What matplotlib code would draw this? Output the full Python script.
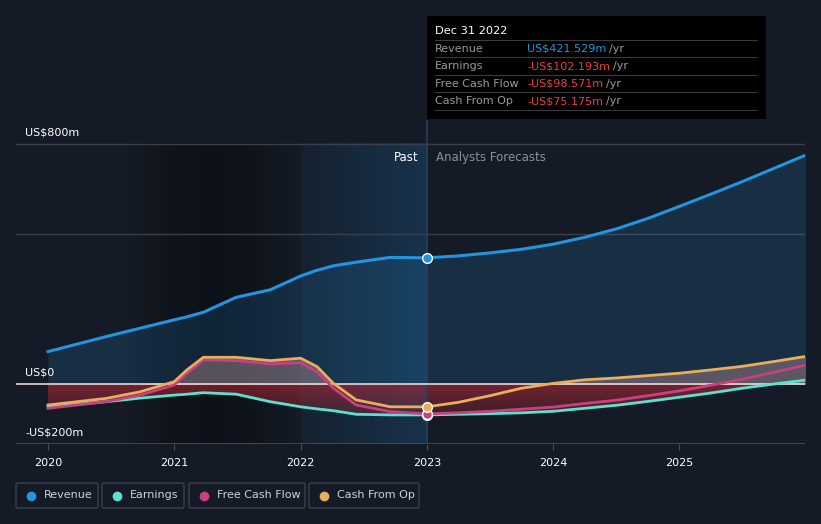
import numpy as np
import matplotlib
matplotlib.use("Agg")
import matplotlib.pyplot as plt
from matplotlib.patches import FancyBboxPatch

# ---- data (US$m) ----
past_x = [2020.0, 2020.46, 2020.73, 2021.0, 2021.1, 2021.23, 2021.49, 2021.76,
          2022.0, 2022.13, 2022.26, 2022.44, 2022.71, 2023.0]
fc_x = [2023.0, 2023.25, 2023.5, 2023.75, 2024.0, 2024.25, 2024.5, 2024.75,
        2025.0, 2025.25, 2025.5, 2025.75, 2026.0]

revenue_past = [109, 159, 187, 215, 225, 240, 290, 315, 361, 380, 395, 407, 423, 421.529]
revenue_fc = [421.529, 428, 438, 450, 467, 490, 518, 553, 593, 634, 676, 720, 764]

earnings_past = [-75, -58, -46, -36, -33, -28, -33, -58, -75, -82, -88, -100, -102, -102.193]
earnings_fc = [-102.193, -100, -98, -95, -90, -80, -70, -57, -43, -29, -13, 1, 14]

fcf_past = [-80, -58, -36, -2, 37, 81, 79, 68, 72, 42, -13, -69, -91, -98.571]
fcf_fc = [-98.571, -95, -90, -83, -76, -64, -53, -38, -22, -3, 17, 40, 64]

cfo_past = [-69, -47, -25, 9, 48, 90, 90, 79, 87, 59, 3, -52, -75, -75.175]
cfo_fc = [-75.175, -60, -38, -13, 3, 15, 21, 29, 37, 48, 60, 76, 93]

years = [2020, 2021, 2022, 2023, 2024, 2025]
tooltip_rows = [("Revenue", "US$421.529m", "#2394df"),
                ("Earnings", "-US$102.193m", "#e8413c"),
                ("Free Cash Flow", "-US$98.571m", "#e8413c"),
                ("Cash From Op", "-US$75.175m", "#e8413c")]

c_rev = "#2394df"
c_earn = "#5ce0cf"
c_fcf = "#c9407f"
c_cfo = "#e9ad5c"
bg = "#151b26"

x = np.array(past_x + fc_x[1:])
rev = np.array(revenue_past + revenue_fc[1:])
earn = np.array(earnings_past + earnings_fc[1:])
fcf = np.array(fcf_past + fcf_fc[1:])
cfo = np.array(cfo_past + cfo_fc[1:])

W, H = 821, 524
fig = plt.figure(figsize=(W / 100, H / 100), dpi=100, facecolor=bg)
ax = fig.add_axes([16 / W, (H - 444.3) / H, (805 - 16) / W, (444.3 - 120) / H])
ax.set_facecolor(bg)
x0 = 2020 - 32 / 126.2
x1 = 2020 + (805 - 48.5) / 126.2
ytop = (384.3 - 120) / 0.3

# darker gradient band and past highlight
grad = np.linspace(0, 1, 256).reshape(1, -1)
ax.imshow(np.dstack([np.zeros((1, 256, 3)), 0.35 * np.sin(grad * np.pi)]),
          extent=[2020.6, 2022.0, -200, 800], aspect="auto", zorder=0.5)
blue = np.ones((1, 256, 3)) * np.array([0.12, 0.40, 0.62])
ax.imshow(np.dstack([blue, 0.08 + 0.24 * grad]),
          extent=[2022.0, 2023.0, -200, 800], aspect="auto", zorder=0.5)

# grid
for gy in [800, 500]:
    ax.axhline(gy, color="#3a404b", lw=1, zorder=1)
ax.axhline(-200, color="#4a505b", lw=1.2, zorder=1)
ax.axhline(0, color="#f4e6e6", lw=1.1, zorder=4)

# fills
ax.fill_between(x, rev, 0, color=c_rev, alpha=0.16, lw=0, zorder=2)
low = np.minimum(np.minimum(earn, fcf), cfo)
neg = ax.fill_between(x, np.minimum(low, 0), 0, color="none", lw=0, zorder=2)
vgrad = np.linspace(1, 0, 256).reshape(-1, 1)
red = np.ones((256, 1, 3)) * np.array([0.80, 0.17, 0.22])
img = ax.imshow(np.dstack([red, 0.2 + 0.32 * vgrad]),
                extent=[x0, x1, -110, 0], aspect="auto", zorder=2)
img.set_clip_path(neg.get_paths()[0], transform=ax.transData)
ax.fill_between(x, np.maximum(cfo, 0), 0, color="#d9a3a3", alpha=0.35, lw=0, zorder=2)
ax.set_xlim(x0, x1)
ax.set_ylim(-200, ytop)

# lines
ax.plot(x, rev, color=c_rev, lw=2.2, zorder=5, solid_joinstyle="round")
ax.plot(x, earn, color=c_earn, lw=2.0, zorder=5, solid_joinstyle="round")
ax.plot(x, fcf, color=c_fcf, lw=2.0, zorder=5, solid_joinstyle="round")
ax.plot(x, cfo, color=c_cfo, lw=2.0, zorder=5, solid_joinstyle="round")

# marker at Dec 31 2022
ax.axvline(2023.0, color="#26405a", lw=1.2, zorder=3)
for val, col in [(revenue_past[-1], c_rev), (earnings_past[-1], c_earn),
                 (fcf_past[-1], c_fcf), (cfo_past[-1], c_cfo)]:
    ax.plot([2023.0], [val], "o", ms=7, color=col, mec="white", mew=1, zorder=6)

ax.text(2023.0 - 0.07, 755, "Past", color="white", fontsize=8.5, ha="right", va="center", zorder=7)
ax.text(2023.0 + 0.07, 755, "Analysts Forecasts", color="#8a8f98", fontsize=8.5,
        ha="left", va="center", zorder=7)

ax.text(2019.82, 840, "US$800m", color="white", fontsize=8, va="center")
ax.text(2019.82, 40, "US$0", color="white", fontsize=8, va="center")
ax.text(2019.82, -160, "-US$200m", color="white", fontsize=8, va="center")

ax.set_xticks(years)
ax.set_xticklabels([str(y) for y in years], color="white", fontsize=8)
ax.tick_params(axis="x", length=4, color="#4a505b", pad=6)
ax.set_yticks([])
for s in ax.spines.values():
    s.set_visible(False)

# tooltip box
tip = fig.add_axes([427 / W, (H - 119) / H, (766 - 427) / W, (119 - 16) / H])
tip.set_xlim(0, 339)
tip.set_ylim(103, 0)
tip.set_facecolor("black")
tip.set_xticks([])
tip.set_yticks([])
for s in tip.spines.values():
    s.set_visible(False)
tip.text(8, 15, "Dec 31 2022", color="white", fontsize=8.2, va="center", fontweight="medium")
for i, (name, value, col) in enumerate(tooltip_rows):
    yy = 33 + i * 17.5
    tip.axhline(yy - 9, xmin=8 / 339, xmax=330 / 339, color="#3a3a3a", lw=0.8)
    tip.text(8, yy, name, color="#9a9a9a", fontsize=8, va="center")
    t = tip.text(100, yy, value, color=col, fontsize=8, va="center")
    fig.canvas.draw()
    bb = t.get_window_extent().transformed(tip.transData.inverted())
    tip.text(bb.x1 + 3, yy, "/yr", color="#9a9a9a", fontsize=8, va="center")
tip.axhline(33 + 4 * 17.5 - 9, xmin=8 / 339, xmax=330 / 339, color="#3a3a3a", lw=0.8)

# legend
leg = fig.add_axes([0, 0, 1, 1], facecolor="none")
leg.set_xlim(0, W)
leg.set_ylim(H, 0)
leg.axis("off")
items = [("Revenue", c_rev, 16, 98), ("Earnings", c_earn, 102, 184),
         ("Free Cash Flow", c_fcf, 189, 305), ("Cash From Op", c_cfo, 309, 419)]
for name, col, a, b in items:
    leg.add_patch(FancyBboxPatch((a, 483), b - a, 25, boxstyle="round,pad=0,rounding_size=2",
                                 fc="none", ec="#3b414c", lw=1))
    leg.plot([a + 15], [495.5], "o", ms=6, color=col)
    leg.text(a + 28, 495.5, name, color="#cfd2d6", fontsize=8, va="center")

fig.savefig("out.png", dpi=100, facecolor=bg)
